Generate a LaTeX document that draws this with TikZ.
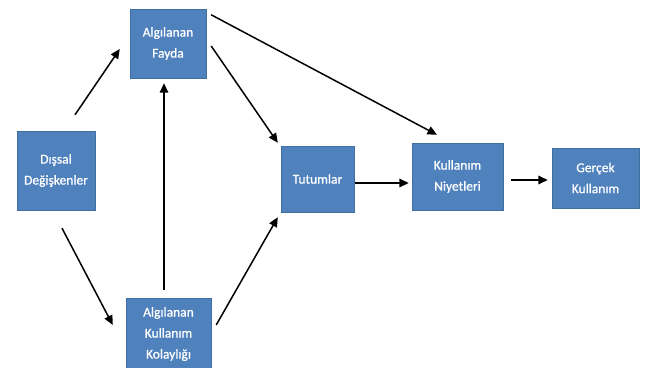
\documentclass[tikz,border=0pt]{standalone}
\usepackage{fontspec}
\setmainfont{Carlito}
\newfontfamily\boxfont[FakeBold=0.8]{Carlito}
\usetikzlibrary{arrows.meta}
\definecolor{boxblue}{HTML}{4F81BD}
\begin{document}
\begin{tikzpicture}[x=1pt,y=-1pt,
  box/.style={fill=boxblue,draw=boxblue!85!black,line width=0.4pt,text=white,align=center,
    font=\boxfont\fontsize{13.5}{21}\selectfont,inner sep=0pt,anchor=center},
  arr/.style={draw=black,line width=1.5pt,-{Triangle[length=9.5pt,width=8.5pt]}}]
\useasboundingbox[fill=white] (0,0) rectangle (645,367);
\begin{scope}
\clip (0,0) rectangle (645,367);
\node[box,minimum width=78pt,minimum height=79pt] (d) at (56,170.5) {Dışsal\\Değişkenler};
\node[box,minimum width=76pt,minimum height=69pt] (f) at (168,43.5) {Algılanan\\Fayda};
\node[box,minimum width=85pt,minimum height=72pt] (k) at (168.5,334) {Algılanan\\Kullanım\\Kolaylığı};
\node[box,minimum width=73pt,minimum height=66pt] (t) at (317.5,179) {Tutumlar};
\node[box,minimum width=91pt,minimum height=67pt] (n) at (457.5,176.5) {Kullanım\\Niyetleri};
\node[box,minimum width=87pt,minimum height=60pt] (g) at (595.5,178) {Gerçek\\Kullanım};
\end{scope}
\draw[arr] ([shift={(19,-16)}]d.north) -- ([shift={(-10,5.5)}]f.west);
\draw[arr] ([shift={(6,18)}]d.south) -- ([shift={(-13,-9)}]k.west);
\draw[arr] ([shift={(-4.5,-8)}]k.north) -- ([shift={(-4,5)}]f.south);
\draw[arr] ([shift={(5,2.5)}]f.east) -- ([shift={(-3,-3)}]t.north west);
\draw[arr] ([shift={(5,6)}]f.north east) -- ([shift={(-20.5,-8)}]n.north);
\draw[arr] ([shift={(5,-9)}]k.east) -- ([shift={(-3,5)}]t.south west);
\draw[arr] ([shift={(1,4)}]t.east) -- ([shift={(-3,6.5)}]n.west);
\draw[arr] ([shift={(8,3.5)}]n.east) -- ([shift={(-4,2)}]g.west);
\end{tikzpicture}
\end{document}
